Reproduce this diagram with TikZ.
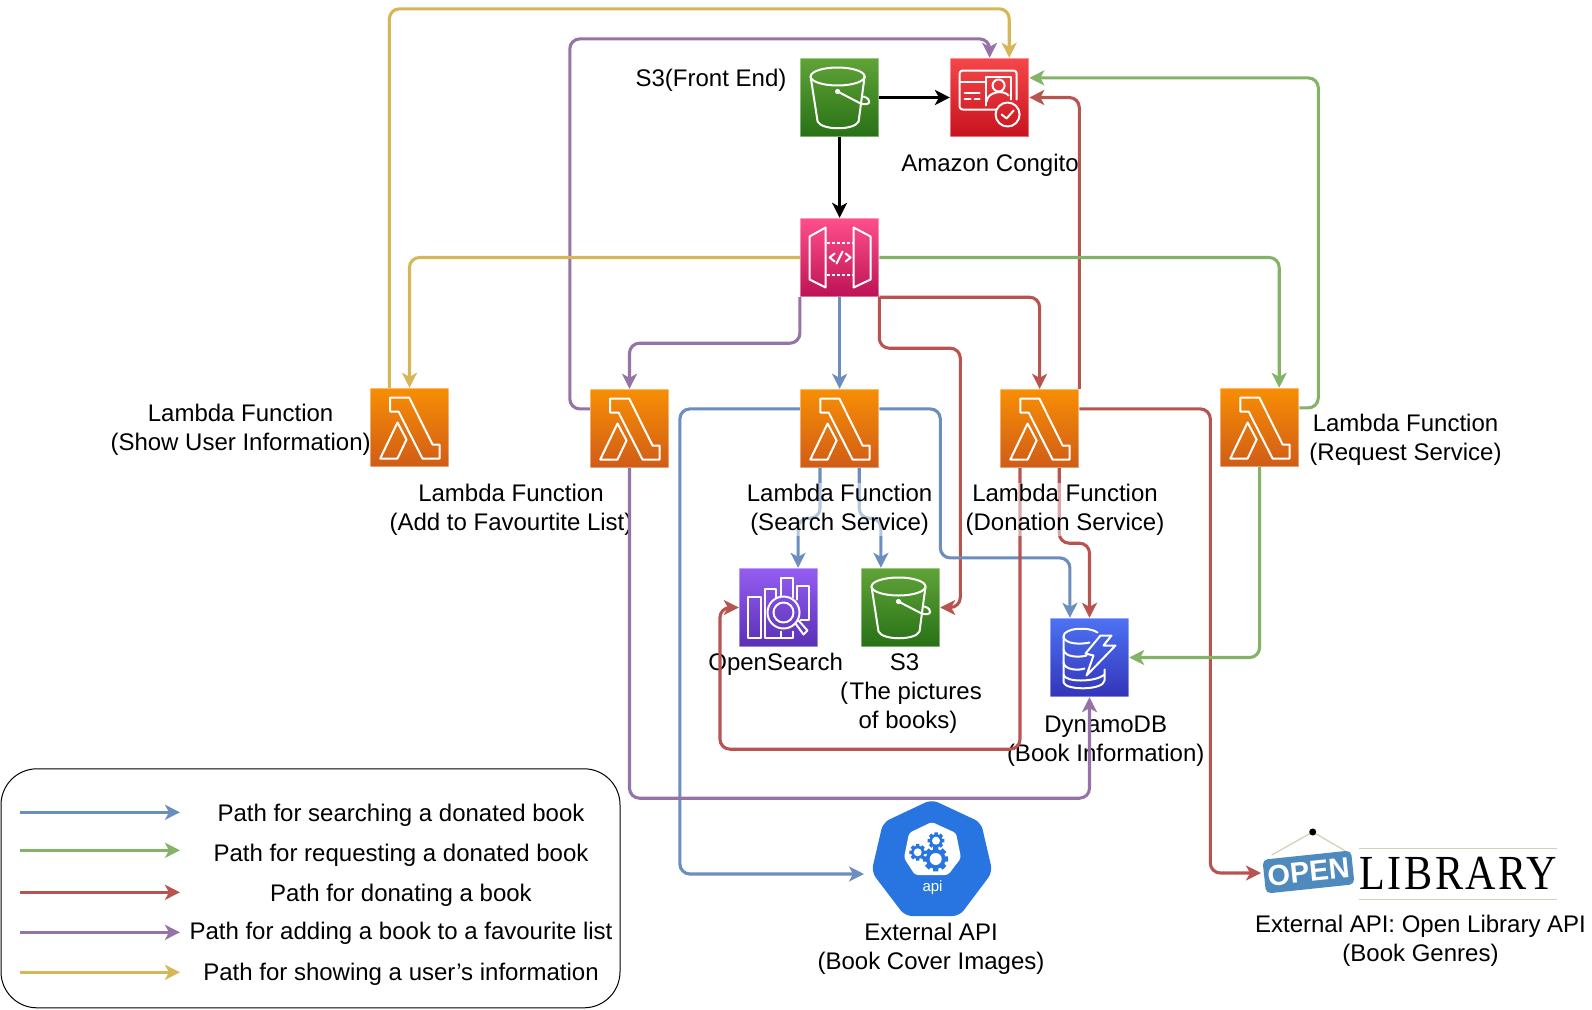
\documentclass[tikz,border=0pt]{standalone}
\usepackage{fontspec}
\usepackage{graphicx}
\setmainfont{Liberation Sans}
\newfontfamily\logofont[LetterSpace=6]{Liberation Serif}
\usetikzlibrary{arrows.meta, calc, math}
\definecolor{qblue}{HTML}{6C8EBF}
\definecolor{qgreen}{HTML}{82B366}
\definecolor{qred}{HTML}{B85450}
\definecolor{qpurple}{HTML}{9673A6}
\definecolor{qgold}{HTML}{D6B656}
\definecolor{qapi}{HTML}{2875E2}
\definecolor{qsign}{HTML}{4F8ABF}
\definecolor{qrule}{HTML}{D5CDB5}
\definecolor{orangetop}{HTML}{F78E04}
\definecolor{orangebot}{HTML}{D05C17}
\definecolor{greentop}{HTML}{60A337}
\definecolor{greenbot}{HTML}{277116}
\definecolor{redtop}{HTML}{F54749}
\definecolor{redbot}{HTML}{C7131F}
\definecolor{pinktop}{HTML}{FF4F8B}
\definecolor{pinkbot}{HTML}{BC1356}
\definecolor{purpletop}{HTML}{945DF2}
\definecolor{purplebot}{HTML}{5A30B5}
\definecolor{bluetop}{HTML}{4D72F3}
\definecolor{bluebot}{HTML}{3334B9}

\tikzset{
  awsbox/.style={minimum size=78.4pt, inner sep=0pt, line width=1pt, draw=white, draw opacity=.4},
  awsorange/.style={awsbox, top color=orangetop, bottom color=orangebot},
  awsgreen/.style={awsbox, top color=greentop, bottom color=greenbot},
  awsred/.style={awsbox, top color=redtop, bottom color=redbot},
  awspink/.style={awsbox, top color=pinktop, bottom color=pinkbot},
  awspurple/.style={awsbox, top color=purpletop, bottom color=purplebot},
  awsblue/.style={awsbox, top color=bluetop, bottom color=bluebot},
  glyph/.style={draw=white, line width=2pt, line join=round, line cap=round},
  flow/.style={line width=3.1pt, rounded corners=10pt, -{Stealth[length=15pt,width=15pt,inset=4pt]}},
  blueflow/.style={flow, draw=qblue},
  greenflow/.style={flow, draw=qgreen},
  redflow/.style={flow, draw=qred},
  purpleflow/.style={flow, draw=qpurple},
  goldflow/.style={flow, draw=qgold},
  blackflow/.style={flow, draw=black, line width=3.6pt},
  lbl/.style={align=center, font=\fontsize{24}{29}\selectfont, inner sep=1pt},
  lblback/.style={lbl, fill=white, fill opacity=.5, text opacity=1},
  % white pictures on the coloured boxes
  lambdaglyph/.pic={
    \draw[glyph] (-19.3,-30) -- (-0.3,-30) -- (23,17) -- (30,17) -- (30,31) -- (13,31) -- (-11,-16) -- (-19.3,-16) -- cycle;
    \draw[glyph] (-29.3,31) -- (-12,-5) -- (-3,12) -- (-12,31) -- cycle;
  },
  bucketglyph/.pic={
    \draw[glyph] (-2,-21) ellipse (27 and 9);
    \draw[glyph] (-29,-21) -- (-22,24) .. controls (-18,33) and (15,33) .. (19,24) -- (25,-21);
    \fill[white] (-2,-6) circle (2.6);
    \draw[glyph] (-2,-6) -- (21,6) .. controls (31,9) and (33,2) .. (24,-1);
  },
  cognitoglyph/.pic={
    \draw[glyph, rounded corners=3pt] (6,12) -- (-30,12) -- (-30,-27) -- (27,-27) -- (27,2);
    \draw[glyph] (-30,-16) -- (-4,-16);
    \draw[glyph] (-4,8) -- (-4,-21) -- (21,-21) -- (21,2);
    \draw[glyph] (9,-12) circle (6);
    \draw[glyph] (-3,4) .. controls (-2,-6) and (14,-8) .. (19,-2);
    \draw[glyph] (-25,-5) -- (-10,-5);
    \draw[glyph] (-25,1) -- (-19,1) (-15,1) -- (-10,1);
    \draw[glyph] (18,17) circle (12);
    \draw[glyph] (12,17) -- (17,21) -- (24,13);
  },
  apiglyph/.pic={
    \draw[glyph] (-30,-21) -- (-14,-30) -- (-14,30) -- (-30,22) -- cycle;
    \draw[glyph] (14,-30) -- (31,-21) -- (31,22) -- (14,30) -- cycle;
    \draw[glyph, line cap=butt, dash pattern=on 3pt off 2pt] (-13,-15) -- (13,-15) (-13,17) -- (13,17);
    \draw[glyph] (-5,-4) -- (-10,0) -- (-5,4) (-3,6) -- (3,-6) (6,-4) -- (11,0) -- (6,4);
  },
  searchglyph/.pic={
    \draw[glyph] (-31,-11) rectangle (-18,30);
    \draw[glyph] (-3,-10) -- (-3,-19) -- (-14,-19) -- (-14,30) -- (14,30) -- (14,24) (2,24) -- (2,30);
    \draw[glyph] (2,-12) -- (2,-30) -- (14,-30) -- (14,-10);
    \draw[glyph] (18,-8) -- (18,-22) -- (30,-22) -- (30,12) -- (22,12);
    \draw[glyph] (5,5) circle (16) (5,5) circle (10);
    \draw[glyph] (17,16) -- (25,27) -- (29,23) -- (20,13);
  },
  dynamoglyph/.pic={
    \draw[glyph] (8,-25) .. controls (0,-31) and (-26,-30) .. (-26,-21) -- (-26,25) .. controls (-24,33) and (14,33) .. (15,23) -- (15,12);
    \draw[glyph] (-26,-21) .. controls (-25,-13) and (-8,-13) .. (0,-15);
    \draw[glyph] (-26,-8) .. controls (-25,0) and (-10,0) .. (-3,-2);
    \draw[glyph] (-26,5) .. controls (-25,13) and (-10,13) .. (-5,11);
    \draw[glyph] (-26,17) .. controls (-25,25) and (6,25) .. (15,17);
    \draw[glyph] (11,-22) -- (22,-22) -- (14,-12) -- (26,-12) -- (-3,18) -- (4,-2) -- (-4,-4) -- cycle;
  },
}

\newcommand{\gearglyph}[3]{%
  \fill[qapi] (#1,#2) circle (#3*.82);
  \foreach \a in {0,45,...,315}{
    \fill[qapi] (#1,#2) ++(\a:#3*.7) -- ++(\a+90:#3*.22) -- ++(\a:#3*.34) -- ++(\a-90:#3*.44) -- ++(\a+180:#3*.34) -- cycle;
  }
  \fill[white] (#1,#2) circle (#3*.5);
}

\begin{document}
\begin{tikzpicture}[x=1pt,y=-1pt]

\tikzmath{
\q = 19.6; %quarter of a box
}

\useasboundingbox (0,0) rectangle (1592,1009);

\node[awsgreen] (s3front) at (839.6,97.5) {};
\node[awsred] (cognito) at (989.6,97.5) {};
\node[awspink] (apigw) at (839.6,257.5) {};
\node[awspurple] (opensearch) at (778.5,607.5) {};
\node[awsgreen] (s3books) at (900.5,607.5) {};
\node[awsblue] (dynamo) at (1089.5,657.5) {};
\foreach \n/\x/\y in {lamshow/409.5/427.5, lamfav/629.5/428.5, lamsearch/839.6/428.5, lamdon/1039.6/428.5, lamreq/1259.6/427.5}{
  \node[awsorange] (\n) at (\x,\y) {};
  \pic at (\n) {lambdaglyph};
}
\pic at (s3front) {bucketglyph};
\pic at (s3books) {bucketglyph};
\pic at (cognito) {cognitoglyph};
\pic at (apigw) {apiglyph};
\pic at (opensearch) {searchglyph};
\pic at (dynamo) {dynamoglyph};

\coordinate (extapitip) at (864,874);
\coordinate (openlibtip) at (1261,873);

%legend
\node[draw=black, line width=1pt, rounded corners=36pt, minimum width=619pt, minimum height=239pt, inner sep=0pt] (legend) at (310.5,888.3) {};
\foreach \i/\y/\ty/\f/\t in {1/812.3/815/blueflow/Path for searching a donated book, 2/850.3/855/greenflow/Path for requesting a donated book, 3/892.3/895/redflow/Path for donating a book, 4/932.3/933/purpleflow/Path for adding a book to a favourite list, 5/972.3/974.5/goldflow/Path for showing a user's information}{
  \coordinate (legstart\i) at (20,\y);
  \coordinate (legend\i) at (180,\y);
  \draw[\f] (legstart\i) -- (legend\i);
  \node[font=\fontsize{24}{29}\selectfont, inner sep=0pt] (legtext\i) at (401,\ty) {\t};
}

%external api
\fill[qapi, rounded corners=7pt] (931.7,799.5) -- (981,822.5) -- (992.5,872) -- (959.5,916) -- (905,916) -- (871.5,872) -- (883,822.5) -- cycle;
\fill[white, rounded corners=3pt] (931.7,822) -- (956,833) -- (961,858) -- (948,875) -- (915,875) -- (904,858) -- (909,833) -- cycle;
\gearglyph{935.7}{859}{12}
\gearglyph{917.7}{852.3}{8}
\gearglyph{936}{840.7}{8}
\node[text=white, font=\fontsize{15}{15}\selectfont, inner sep=0pt] (apitext) at (932.5,887.5) {api};

%open library
\draw[qrule, line width=1.2pt] (1271.7,855) -- (1312.7,832) -- (1345,850.7);
\fill[black] (1312.7,832) circle (3.5);
\node[fill=qsign, rounded corners=5pt, rotate=6, minimum width=89pt, minimum height=34pt, inner sep=0pt, text=white, font=\bfseries\fontsize{29}{29}\selectfont] (opensign) at (1308.5,872) {OPEN};
\draw[qrule, line width=1.2pt] (1359.3,848.7) -- (1556.7,848.7) (1359.3,899.7) -- (1556.7,899.7);
\node[inner sep=0pt, font=\logofont\fontsize{49}{49}\selectfont] (libtext) at (1458.5,873) {\scalebox{.86}[1]{LIBRARY}};

%labels under the paths
\node[lbl] (s3frontlbl) at (711,80) {S3(Front End)};
\node[lbl] (cognitolbl) at (990,165.7) {Amazon Congito};
\node[lbl] (lamshowlbl) at (240.6,429.7) {Lambda Function\\(Show User Information)};
\node[lbl] (lamfavlbl) at (511,509.8) {Lambda Function\\(Add to Favourtite List)};
\node[lbl] (lamreqlbl) at (1405.5,439.8) {Lambda Function\\(Request Service)};
\node[lbl] (opensearchlbl) at (775.7,664.2) {OpenSearch};
\node[lbl] (s3bookslbl) at (908,693.7) {S3\hspace*{7pt}\\\hspace*{6pt}(\hspace{1.5pt}The pictures\\of books)};
\node[lbl] (dynamolbl) at (1105.7,741) {DynamoDB\\(Book Information)};
\node[lbl] (extapilbl) at (931,949.2) {External API\\(Book Cover Images)};
\node[lbl] (openliblbl) at (1420.5,941.2) {External API: Open Library API\\(Book Genres)};

%paths
\draw[goldflow] ($(lamshow.north west)+(\q,0)$) -- ++(0,-379) -| ($(cognito.north)+(\q,0)$);
\draw[purpleflow] ($(lamfav.west)+(0,-\q)$) -- ++(-20,0) -- ++(0,-370) -| (cognito.north);
\draw[greenflow] ($(lamreq.east)+(0,-\q)$) -- ++(19,0) |- ($(cognito.east)+(0,-\q)$);
\draw[redflow] (lamdon.north east) |- (cognito.east);
\draw[blackflow] (s3front) -- (cognito);
\draw[blackflow] (s3front) -- (apigw);
\draw[goldflow] (apigw.west) -| (lamshow.north);
\draw[greenflow] (apigw.east) -| ($(lamreq.north)+(\q,0)$);
\draw[purpleflow] (apigw.south west) -- ++(0,46) -| (lamfav.north);
\draw[blueflow] (apigw) -- (lamsearch);
\draw[redflow] (apigw.south east) -| (lamdon.north);
\draw[redflow] (apigw.south east) -- ++(0,51) -- ++(81,0) |- (s3books.east);
\draw[blueflow] ($(lamsearch.west)+(0,-\q)$) -- ++(-120,0) |- (extapitip);
\draw[blueflow] ($(lamsearch.east)+(0,-\q)$) -- ++(61,0) -- ++(0,149) -| ($(dynamo.north)+(-\q,0)$);
\draw[blueflow] ($(lamsearch.south)+(-\q,0)$) -- ++(0,50) -| ($(opensearch.north)+(\q,0)$);
\draw[blueflow] ($(lamsearch.south)+(\q,0)$) -- ++(0,50) -| ($(s3books.north)+(-\q,0)$);
\draw[redflow] ($(lamdon.south)+(-\q,0)$) -- ++(0,281) -- ++(-300,0) |- (opensearch.west);
\draw[redflow] ($(lamdon.south)+(\q,0)$) -- ++(0,75) -| (dynamo.north);
\draw[redflow] ($(lamdon.east)+(0,-\q)$) -- ++(131,0) |- (openlibtip);
\draw[purpleflow] (lamfav.south) -- ++(0,330) -| (dynamo.south);
\draw[greenflow] (lamreq.south) |- (dynamo.east);

%labels over the paths
\node[lblback] (lamsearchlbl) at (839.6,509.8) {Lambda Function\\(Search Service)};
\node[lblback] (lamdonlbl) at (1065,509.8) {Lambda Function\\(Donation Service)};

\end{tikzpicture}
\end{document}
